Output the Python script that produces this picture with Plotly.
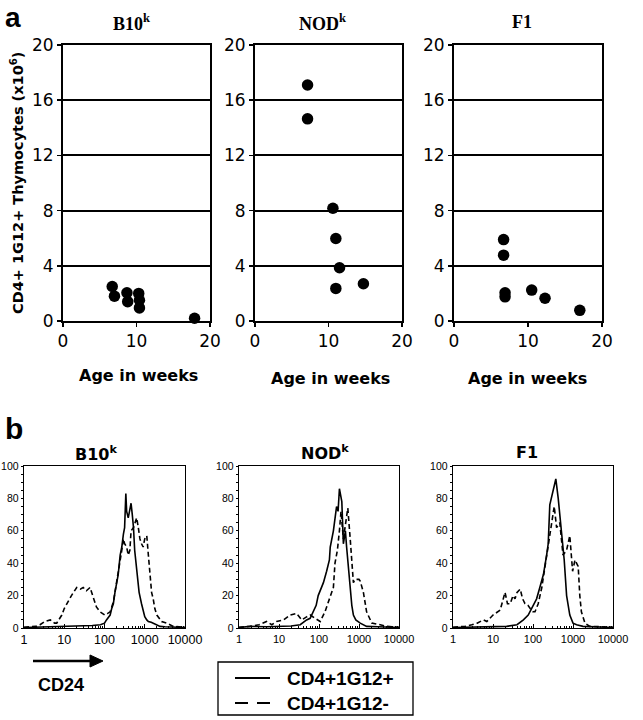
import plotly.graph_objects as go

W, H = 643, 720


def px(x):
    return x / W


def py(y):
    return 1 - y / H


# ---------------- Panel a: CD4+ 1G12+ thymocytes vs age ----------------
b10_age = [6.7, 7.0, 8.7, 8.8, 10.3, 10.4, 10.4, 17.9]
b10_cells = [2.5, 1.8, 2.05, 1.4, 2.0, 1.5, 0.95, 0.2]
nod_age = [7.15, 7.15, 10.6, 11.0, 11.5, 11.0, 14.75]
nod_cells = [17.1, 14.65, 8.17, 5.98, 3.86, 2.36, 2.7]
f1_age = [6.7, 6.7, 6.9, 6.9, 10.5, 12.3, 17.0]
f1_cells = [5.9, 4.77, 2.05, 1.75, 2.24, 1.65, 0.77]

age_ticks = [0, 10, 20]
cell_ticks = [0, 4, 8, 12, 16, 20]

# ---------------- Panel b: CD24 histograms ----------------
# B10k
b10_pos_x = [1, 2, 3.16, 5, 7.9, 12.6, 20, 31.6, 50, 79.4, 100, 112, 138, 151, 166, 182, 200, 219,
             245, 269, 295, 316, 339, 355, 389, 427, 457, 490, 525, 562, 603, 661, 724, 832, 912,
             1000, 1122, 1230, 1445, 1622, 1995, 2399, 3162, 5000, 10000]
b10_pos_y = [0.3, 0.5, 0.8, 0.5, 1, 0.8, 1.2, 1, 1.5, 2, 3, 5, 8, 12, 15, 22, 28, 33,
             45, 50, 58, 62, 83, 72, 68, 74, 77, 70, 62, 48, 40, 30, 22, 15, 10,
             7, 5, 4, 3.5, 3, 2, 1, 0.8, 0.5, 0.3]
b10_neg_x = [1, 2, 2.5, 3.3, 4.5, 5.75, 6.5, 8.7, 10, 11.5, 15.1, 20.4, 25, 29.5, 35.5, 43.7, 50,
             57.5, 63, 77.6, 89, 102, 120, 138, 166, 182, 219, 245, 269, 295, 316, 355, 389, 427,
             457, 525, 631, 692, 759, 832, 912, 1000, 1122, 1230, 1349, 1479, 1622, 1778, 1995,
             2630, 3548, 5129, 10000]
b10_neg_y = [0.5, 1, 2, 4, 5, 3, 3, 8, 12, 15, 20, 25, 24, 25, 23, 25, 20,
             15, 13, 10, 9, 8, 9, 10, 16, 22, 32, 40, 48, 55, 52, 50, 45, 48,
             60, 62, 68, 62, 55, 52, 50, 55, 57, 45, 30, 22, 18, 12, 8,
             4, 3, 1, 0.5]
# NODk
nod_pos_x = [1, 1.9, 5, 10, 20, 33.9, 49, 60, 72.4, 85, 95.5, 112, 129, 155, 182, 191, 229, 275,
             300, 324, 355, 372, 407, 457, 490, 550, 603, 661, 724, 832, 1072, 1549, 3000, 10000]
nod_pos_y = [0.3, 1, 0.8, 1, 1.2, 2, 5, 6, 10, 14, 20, 24, 28, 35, 42, 50, 60, 75,
             72, 86, 80, 78, 52, 60, 50, 35, 22, 14, 8, 5, 3, 1, 0.8, 0.3]
nod_neg_x = [1, 1.9, 3.16, 4.9, 6.6, 8.7, 12.9, 19, 27.5, 37.2, 50, 60.3, 79.4, 107, 141, 191, 229,
             251, 288, 324, 355, 407, 457, 525, 603, 661, 724, 794, 1000, 1072, 1288, 1549, 2089,
             3388, 4898, 10000]
nod_neg_y = [0.5, 1, 2, 4, 2, 4, 5, 8, 9, 5, 7, 8, 6, 4, 10, 20, 25,
             40, 48, 60, 72, 55, 65, 74, 55, 40, 28, 30, 30, 29, 22, 10, 3,
             2, 1, 0.5]
# F1
f1_pos_x = [1, 3, 10, 21.9, 39.8, 57.5, 75.9, 100, 123, 148, 182, 219, 240, 263, 316, 372, 427, 513,
            603, 692, 832, 1000, 1230, 1778, 3000, 10000]
f1_pos_y = [0.3, 0.5, 0.8, 1, 2, 5, 8, 14, 18, 25, 33, 45, 52, 76, 85, 92, 80, 60,
            42, 20, 8, 3, 2, 1, 0.8, 0.3]
f1_neg_x = [1, 2, 2.95, 4, 5.75, 7, 10, 12.6, 15.1, 20, 23, 26.9, 31.6, 35.5, 40, 47.9, 55, 63.1,
            75, 85.1, 100, 112, 135, 166, 219, 263, 316, 339, 389, 427, 468, 562, 692, 832, 977,
            1122, 1349, 1479, 1622, 1995, 2630, 5000, 10000]
f1_neg_y = [0.5, 1, 2, 3, 5, 4, 8, 10, 11, 22, 15, 15, 20, 18, 22, 24, 18, 15,
            14, 12, 10, 10, 15, 25, 45, 58, 70, 75, 62, 64, 65, 45, 48, 57, 35,
            42, 38, 20, 10, 3, 1, 0.8, 0.5]

cd24_ticks = [1, 10, 100, 1000, 10000]
cd24_ticktext = ["1", "10", "100", "1000", "10000"]
pct_ticks = [0, 20, 40, 60, 80, 100]

series_names = ["CD4+1G12+", "CD4+1G12-"]

fig = go.Figure()

dot = dict(color="black", size=11.5, symbol="circle", line=dict(width=0))
for i, (ax, ay) in enumerate([(b10_age, b10_cells), (nod_age, nod_cells), (f1_age, f1_cells)]):
    n = "" if i == 0 else str(i + 1)
    fig.add_trace(go.Scatter(x=ax, y=ay, mode="markers", marker=dot, cliponaxis=False,
                             showlegend=False, hoverinfo="skip", xaxis="x" + n, yaxis="y" + n))

POS_LINE = dict(color="black", width=1.6)
NEG_LINE = dict(color="black", width=1.6, dash="5px,3px")
hists = [(b10_pos_x, b10_pos_y, b10_neg_x, b10_neg_y),
         (nod_pos_x, nod_pos_y, nod_neg_x, nod_neg_y),
         (f1_pos_x, f1_pos_y, f1_neg_x, f1_neg_y)]
for i, (xp, yp, xn, yn) in enumerate(hists):
    n = str(i + 4)
    fig.add_trace(go.Scatter(x=xn, y=yn, mode="lines", name=series_names[1], line=NEG_LINE,
                             showlegend=False, hoverinfo="skip", xaxis="x" + n, yaxis="y" + n))
    fig.add_trace(go.Scatter(x=xp, y=yp, mode="lines", name=series_names[0], line=POS_LINE,
                             showlegend=False, hoverinfo="skip", xaxis="x" + n, yaxis="y" + n))

top_x = [(63, 210), (255, 402), (454, 602)]
bot_x = [(24, 185), (239, 399), (453, 613)]
top_dom_y = [py(321), py(45)]
bot_dom_y = [py(628), py(466)]

lay = dict(width=W, height=H, margin=dict(l=0, r=0, t=0, b=0, autoexpand=False),
           paper_bgcolor="white", plot_bgcolor="white", showlegend=False)

tickfont_top = dict(family="DejaVu Sans", size=17, color="black")
for i, (a, b) in enumerate(top_x):
    k = "" if i == 0 else str(i + 1)
    lay["xaxis" + k] = dict(domain=[px(a), px(b)], anchor="y" + k, range=[0, 20],
                            tickvals=age_ticks, showgrid=False, zeroline=False, automargin=False,
                            showline=True, linecolor="black", linewidth=2, mirror=True,
                            ticks="outside", ticklen=4, tickwidth=1.5, tickcolor="black",
                            tickfont=tickfont_top)
    lay["yaxis" + k] = dict(domain=top_dom_y, anchor="x" + k, range=[0, 20], automargin=False,
                            tickvals=cell_ticks, showgrid=True, gridcolor="black", gridwidth=2,
                            zeroline=False, showline=True, linecolor="black", linewidth=2,
                            mirror=True, ticks="outside", ticklen=4, tickwidth=1.5,
                            tickcolor="black", tickfont=tickfont_top)

xfont_sizes = [12.5, 11, 11]
for i, (a, b) in enumerate(bot_x):
    k = str(i + 4)
    lay["xaxis" + k] = dict(domain=[px(a), px(b)], anchor="y" + k, type="log", range=[0, 4],
                            tickvals=cd24_ticks, ticktext=cd24_ticktext, showgrid=False,
                            zeroline=False, showline=True, linecolor="black", linewidth=1.3,
                            mirror=True, ticks="inside", ticklen=4, tickwidth=1, tickcolor="black",
                            automargin=False,
                            minor=dict(ticks="inside", ticklen=2.5, tickwidth=1, tickcolor="black",
                                       dtick="D1", showgrid=False),
                            tickfont=dict(family="Liberation Sans", size=xfont_sizes[i], color="black"))
    lay["yaxis" + k] = dict(domain=bot_dom_y, anchor="x" + k, range=[0, 100],
                            tickvals=pct_ticks, showgrid=False, zeroline=False, showline=True,
                            linecolor="black", linewidth=1.3, mirror=True, ticks="outside",
                            ticklen=2, tickwidth=1, tickcolor="black", automargin=False,
                            minor=dict(ticks="outside", ticklen=2, dtick=5, tickcolor="black",
                                       showgrid=False),
                            tickfont=dict(family="Liberation Sans", size=10.5, color="black"))

fig.update_layout(**lay)

ann = []


def text(x, y, s, size, family="Liberation Sans", bold=True, xanchor="center", angle=0,
         yanchor="middle"):
    ann.append(dict(x=px(x), y=py(y), xref="paper", yref="paper", text=s, showarrow=False,
                    xanchor=xanchor, yanchor=yanchor, textangle=angle,
                    font=dict(family=family, size=size, color="black",
                              weight="bold" if bold else "normal")))


text(3, 0, "a", 28, xanchor="left", yanchor="top")
text(3, 428, "b", 30, xanchor="left")
text(131, 22, "B10<sup>k</sup>", 18, family="Liberation Serif")
text(322, 22, "NOD<sup>k</sup>", 18, family="Liberation Serif")
text(522, 22, "F1", 18, family="Liberation Serif")
text(138, 375, "Age in weeks", 16, family="DejaVu Sans")
text(330, 378, "Age in weeks", 16, family="DejaVu Sans")
text(527, 378, "Age in weeks", 16, family="DejaVu Sans")
text(17, 183, "CD4+ 1G12+ Thymocytes (x10<sup>6</sup>)", 14.5, family="DejaVu Sans", angle=-90)
text(96, 453, "B10<sup>k</sup>", 16, family="DejaVu Sans")
text(325, 452, "NOD<sup>k</sup>", 16, family="DejaVu Sans")
text(527, 452, "F1", 16, family="DejaVu Sans")
text(36, 685, "CD24", 18, xanchor="left")

# legend (key to the line styles)
text(285, 678, series_names[0], 19, xanchor="left")
text(285, 703, series_names[1], 19, xanchor="left")

fig.update_layout(annotations=ann)

shapes = [
    dict(type="rect", xref="paper", yref="paper", x0=px(218), x1=px(413), y0=py(715), y1=py(662),
         line=dict(color="black", width=1.3), fillcolor="rgba(0,0,0,0)"),
    dict(type="line", xref="paper", yref="paper", x0=px(235), x1=px(270), y0=py(678), y1=py(678),
         line=dict(color="black", width=1.8)),
    dict(type="line", xref="paper", yref="paper", x0=px(235), x1=px(270), y0=py(703), y1=py(703),
         line=dict(color="black", width=1.8, dash="13px,9px")),
    # CD24 arrow
    dict(type="line", xref="paper", yref="paper", x0=px(33), x1=px(92), y0=py(661), y1=py(661),
         line=dict(color="black", width=2.4)),
    dict(type="path", xref="paper", yref="paper",
         path="M %f %f L %f %f L %f %f Z" % (px(90), py(655), px(103), py(661), px(90), py(667)),
         fillcolor="black", line=dict(color="black", width=1)),
]
fig.update_layout(shapes=shapes)

fig.write_html("out.html", config={"displayModeBar": False, "staticPlot": True},
               post_script="document.body.style.margin='0px';document.body.style.overflow='hidden';")
